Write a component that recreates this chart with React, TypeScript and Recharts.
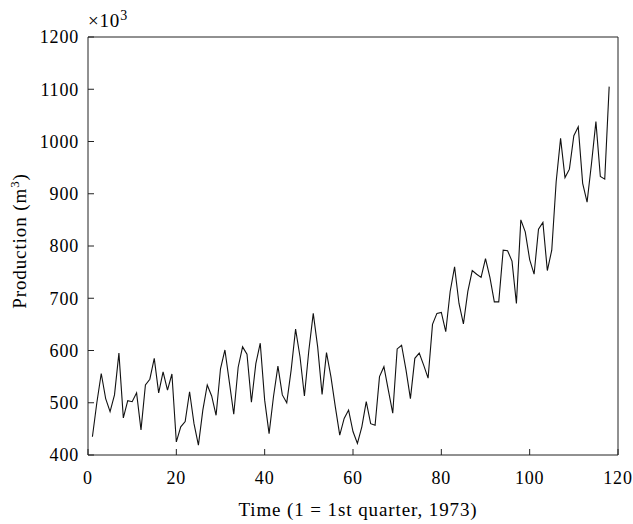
import React from "react";
import { LineChart, Line, XAxis, YAxis } from "recharts";

const quarters: number[] = Array.from({ length: 118 }, (_, i) => i + 1);
const production: number[] = [
  435, 500, 556, 508, 483, 515, 595, 471, 504, 502,
  519, 448, 534, 545, 585, 519, 559, 524, 555, 425,
  454, 464, 521, 460, 419, 486, 534, 513, 476, 565,
  601, 540, 478, 568, 607, 593, 501, 575, 614, 505,
  441, 512, 570, 515, 500, 563, 641, 588, 513, 600,
  671, 607, 516, 596, 550, 492, 438, 470, 486, 445,
  422, 454, 502, 460, 457, 550, 569, 524, 480, 603,
  610, 563, 508, 585, 595, 572, 547, 650, 671, 673,
  636, 713, 760, 690, 651, 713, 753, 746, 740, 776,
  740, 693, 693, 792, 791, 771, 690, 850, 827, 774,
  746, 832, 845, 753, 792, 923, 1006, 931, 947, 1011,
  1028, 920, 884, 958, 1038, 933, 928, 1105,
];
const xTicks: number[] = [0, 20, 40, 60, 80, 100, 120];
const yTicks: number[] = [400, 500, 600, 700, 800, 900, 1000, 1100, 1200];

const data = quarters.map((t, i) => ({ t, v: production[i] }));

const FONT = "'Liberation Serif', 'DejaVu Serif', serif";
const tickStyle = { fontFamily: FONT, fontSize: 18, fill: "#000", letterSpacing: 0.8 };
const axisColor = "#222";

export default function App() {
  return (
    <div style={{ position: "relative", width: 625, height: 516, fontFamily: FONT, color: "#000" }}>
      <style>{"html, body { overflow: hidden; } body { margin-right: 0; } .recharts-surface, .recharts-wrapper { overflow: visible !important; }"}</style>
      <LineChart
        width={625}
        height={516}
        data={data}
        margin={{ top: 28, right: 14, bottom: 0, left: 0 }}
        style={{ overflow: "visible" }}
      >
        <XAxis
          xAxisId="bottom"
          dataKey="t"
          type="number"
          domain={[0, 120]}
          ticks={xTicks}
          allowDataOverflow
          height={69}
          tickSize={-6}
          tickMargin={22}
          tick={tickStyle}
          stroke={axisColor}
          axisLine={{ stroke: axisColor }}
          tickLine={{ stroke: axisColor }}
        />
        <XAxis
          xAxisId="top"
          orientation="top"
          dataKey="t"
          type="number"
          domain={[0, 120]}
          ticks={xTicks}
          allowDataOverflow
          height={1}
          tickSize={-6}
          tick={false}
          stroke={axisColor}
        />
        <YAxis
          yAxisId="left"
          type="number"
          domain={[400, 1200]}
          ticks={yTicks}
          allowDataOverflow
          width={80}
          tickSize={-6}
          tickMargin={15}
          tick={tickStyle}
          stroke={axisColor}
        />
        <YAxis
          yAxisId="right"
          orientation="right"
          type="number"
          domain={[400, 1200]}
          ticks={yTicks}
          allowDataOverflow
          width={1}
          tickSize={-6}
          tick={false}
          stroke={axisColor}
        />
        <Line
          xAxisId="bottom"
          yAxisId="left"
          type="linear"
          dataKey="v"
          stroke="#111"
          strokeWidth={1.1}
          dot={false}
          isAnimationActive={false}
        />
      </LineChart>
      <div style={{ position: "absolute", left: 80, top: 1, fontSize: 19, lineHeight: 1, whiteSpace: "nowrap", letterSpacing: 0.8 }}>
        ×10<sup style={{ fontSize: 14, verticalAlign: "7px", lineHeight: 1 }}>3</sup>
      </div>
      <div
        style={{
          position: "absolute",
          left: 10,
          top: 233,
          fontSize: 19,
          lineHeight: 1,
          whiteSpace: "nowrap",
          letterSpacing: 0.9,
          transform: "translate(-50%, -50%) rotate(-90deg)",
        }}
      >
        Production (m<sup style={{ fontSize: 13, verticalAlign: "7px", lineHeight: 1 }}>3</sup>)
      </div>
      <div
        style={{
          position: "absolute",
          left: 350,
          top: 492,
          fontSize: 19,
          lineHeight: 1,
          whiteSpace: "nowrap",
          letterSpacing: 0.9,
          transform: "translateX(-50%)",
        }}
      >
        Time (1 = 1st quarter, 1973)
      </div>
    </div>
  );
}
